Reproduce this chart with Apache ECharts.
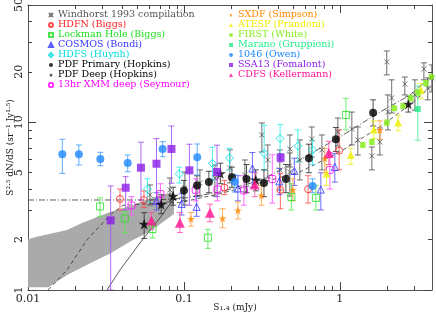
<!DOCTYPE html>
<html><head><meta charset="utf-8">
<script src="https://cdn.jsdelivr.net/npm/echarts@6/dist/echarts.min.js"></script>
<style>html,body{margin:0;padding:0;background:#fff}#c{width:436px;height:312px}</style>
</head><body><div id="c"></div>
<script>
const L = Math.log10;
// rows: [S1.4 (mJy), S^2.5 dN/dS, lower, upper]
const windhorst = [[0.0606,3.69,3.21,4.23],[0.0813,3.95,3.35,4.65],[0.1015,4.06,3.21,5.05],[0.1267,4.35,3.63,5.2],[0.158,4.65,3.63,5.56],[0.197,5.34,4.35,6.84],[0.246,4.85,3.84,5.96],[0.316,8.40,6.65,9.90],[0.345,5.96,4.65,7.32],[0.412,5.2,3.95,6.84],[0.478,6.93,5.41,8.40],[0.478,5.05,3.63,6.56],[0.554,5.96,4.53,7.84],[0.661,7.95,6.21,9.37],[0.767,6.84,5.2,8.40],[0.971,8.75,7.22,10.6],[1.194,9.12,7.32,11.5],[1.304,7.84,6.38,9.37],[1.604,6.30,5.2,7.12],[1.805,7.63,6.38,9.25],[2.03,11.5,9.0,14.55],[2.15,13.96,11.36,17.9],[2.0,22.9,19.15,26.6],[2.61,16.9,14.55,18.6],[3.03,14.55,11.8,17.9],[3.46,20.8,17.9,22.6],[3.66,16.0,13.6,18.4],[3.89,18.4,15.16,21.97]];
const hdfn = [[0.0389,3.49,3.0,4.0],[0.0554,3.44,3.1,3.9],[0.1818,4.08,3.7,4.5],[0.4155,3.95,3.05,4.95],[0.626,3.99,3.3,4.8],[0.990,6.77,5.2,9.0]];
const lockman = [[0.029,3.15,2.75,3.54],[0.0418,2.67,2.19,2.93],[0.063,2.31,2.04,2.55],[0.1425,2.05,1.77,2.3],[0.489,3.58,3.0,4.3],[0.702,3.54,3.0,4.2],[1.093,11.05,9.0,13.9]];
const cosmos = [[0.0668,3.39,3.0,3.8],[0.0967,3.26,2.8,3.75],[0.1206,3.13,2.75,3.6],[0.222,4.03,3.4,4.8],[0.275,5.30,4.1,6.6],[0.4095,4.44,3.7,5.3],[0.511,5.12,4.2,6.1],[0.755,3.97,3.0,5.0],[0.929,5.41,4.4,6.5]];
const hdfs = [[0.0583,4.0,3.35,4.6],[0.0935,4.92,4.35,5.4],[0.1524,5.69,4.5,7.1],[0.196,6.12,5.2,7.0],[0.327,6.53,5.2,9.6],[0.414,8.0,6.5,9.7],[0.538,7.22,5.8,9.0],[0.668,6.84,5.6,7.8]];
const pdfPrimary = [[0.100,3.92,3.4,4.5],[0.1212,4.20,3.65,4.8],[0.1446,4.41,3.8,5.1],[0.2031,4.70,4.1,5.4],[0.252,4.59,3.8,5.6],[0.326,4.35,3.6,5.2],[0.451,4.59,3.8,5.6],[0.633,6.10,5.0,7.4],[0.943,7.92,6.7,9.3],[1.635,11.4,9.5,13.6]];
const pdfDeep = [[0.0556,2.47,2.03,2.89],[0.0715,3.24,2.85,3.7],[0.0853,3.63,3.2,4.1],[0.1714,4.95,4.3,5.7],[0.289,4.53,3.9,5.2],[2.75,12.85,11.5,14.3]];
const seymour = [[0.0461,3.19,2.8,3.6],[0.0707,3.74,3.2,4.3],[0.1189,3.95,3.4,4.6],[0.164,3.97,3.4,4.6],[0.2425,3.92,3.2,4.8],[0.369,4.59,3.3,6.4],[0.863,5.2,4.0,6.6]];
const sxdf = [[0.1109,2.65,2.4,2.9],[0.177,2.67,2.35,3.05],[0.222,2.98,2.65,3.35],[0.314,3.66,3.2,4.2],[0.4995,3.95,3.4,4.6],[0.801,6.08,5.0,7.0],[1.805,9.0,7.9,10.2]];
const atesp = [[0.822,4.95,4.2,5.6],[1.176,6.38,5.6,7.0],[1.652,9.06,8.0,10.2],[2.365,9.97,8.9,11.0],[3.31,15.6,13.8,17.0]];
const first = [[1.404,7.32,7.1,7.55],[1.604,7.63,7.4,7.9],[2.0,9.95,9.6,10.3],[2.235,12.1,11.7,12.5],[2.545,12.5,12.1,12.9],[2.85,13.9,13.4,14.4],[3.16,15.06,14.5,15.6],[3.56,17.08,16.5,17.7],[3.88,18.7,18.1,19.3]];
const marano = [[3.16,12.0,7.8,16.5]];
const owen = [[0.0166,6.45,4.96,7.92],[0.0212,6.45,5.56,7.32],[0.0291,6.04,5.51,6.62],[0.0436,5.72,5.07,6.38],[0.0730,6.93,6.23,7.66],[0.1217,6.18,4.85,7.42],[0.212,4.42,3.84,4.85],[0.668,4.17,3.8,4.6]];
const ssa13 = [[0.0339,2.60,1.0,4.17],[0.0423,4.07,3.0,4.74],[0.053,5.36,3.44,7.6],[0.0667,5.66,3.3,7.99],[0.0832,6.93,4.33,9.5],[0.1084,5.17,3.2,7.4],[0.163,5.05,3.6,7.3],[0.417,6.15,5.8,6.5]];
const cdfs = [[0.0619,2.60,2.3,2.9],[0.0942,2.52,2.2,2.9],[0.1468,2.89,2.55,3.25],[0.285,4.26,3.6,5.0],[0.85,6.56,5.6,7.7]];
// model curves and band
const lineFit = [[0.01,3.44],[0.0606,3.44],[0.0942,3.49],[0.170,3.84],[0.307,4.5],[0.554,5.96],[1,8.17],[1.805,11.5],[2.81,14.5],[3.9,18.9]];
const lineModel = [[0.01343,1.0],[0.01778,1.316],[0.02389,1.99],[0.0336,2.80],[0.0407,3.2],[0.0702,3.30],[0.0942,3.32],[0.170,3.75],[0.307,4.35],[0.554,5.05],[1,6.65],[1.805,9.37],[2.81,12.7],[3.9,16.5]];
const lineSolid = [[0.0321,1.0],[0.0389,1.316],[0.0522,1.906],[0.0702,2.69],[0.085,3.44],[0.1,3.6]];
const bandUpper = [[0.01,2.01],[0.0114,2.08],[0.0178,2.28],[0.0222,2.51],[0.0336,2.92],[0.0451,3.17],[0.0671,3.63],[0.0863,3.84]];
const bandLower = [[0.0863,2.84],[0.0606,2.23],[0.0473,1.99],[0.0336,1.65],[0.0238,1.41],[0.0178,1.23],[0.0135,1.04],[0.01,1.04]];
// axes
const xMin = 0.01, xMax = 3.9, yMin = 1, yMax = 50;
const xMajor = [0.01,0.1,1];
const xMinor = [0.02,0.03,0.04,0.05,0.06,0.07,0.08,0.09,0.2,0.3,0.4,0.5,0.6,0.7,0.8,0.9,2,3];
const xTickLabels = ['0.01','0.1','1'];
const yMajor = [1,10];
const yMinor = [2,3,4,5,6,7,8,9,20,30,40,50];
const yLabelVals = [1,2,5,10,20,50];
const yTickLabels = ['1','2','5','10','20','50'];

const FONT = 'DejaVu Serif';
const star = 'path://M5,0L6.2,3.8L10,3.8L6.9,6.1L8.1,10L5,7.6L1.9,10L3.1,6.1L0,3.8L3.8,3.8Z';
const cross = 'path://M0,0L10,10M10,0L0,10';

const sets = [
 {name:'Windhorst 1993 compilation', rows:windhorst, color:'#555555', sym:cross, size:5, filled:false, bar:'#555555'},
 {name:'HDFN (Biggs)', rows:hdfn, color:'#ff2020', sym:'circle', size:7, filled:false, bar:'#ff5050'},
 {name:'Lockman Hole (Biggs)', rows:lockman, color:'#22dd22', sym:'rect', size:7, filled:false, bar:'#55ee55'},
 {name:'COSMOS (Bondi)', rows:cosmos, color:'#3333ff', sym:'triangle', size:7, filled:false, bar:'#5555ff'},
 {name:'HDFS (Huynh)', rows:hdfs, color:'#00dddd', sym:'diamond', size:8, filled:false, bar:'#33eeee'},
 {name:'PDF Primary (Hopkins)', rows:pdfPrimary, color:'#000000', sym:'circle', size:8, filled:true, bar:'#333333'},
 {name:'PDF Deep (Hopkins)', rows:pdfDeep, color:'#000000', sym:star, size:11, filled:true, bar:'#333333'},
 {name:'13hr XMM deep (Seymour)', rows:seymour, color:'#ff00ff', sym:'roundRect', size:7, filled:false, bar:'#ff55ff'},
 {name:'SXDF (Simpson)', rows:sxdf, color:'#ff8800', sym:star, size:8, filled:true, bar:'#ffa040'},
 {name:'ATESP (Prandoni)', rows:atesp, color:'#eeee00', sym:'triangle', size:8, filled:true, bar:'#eeee22'},
 {name:'FIRST (White)', rows:first, color:'#88ee22', sym:'circle', size:6, filled:true, bar:'#88ee22'},
 {name:'Marano (Gruppioni)', rows:marano, color:'#22ee88', sym:'rect', size:6, filled:true, bar:'#55ee99'},
 {name:'1046 (Owen)', rows:owen, color:'#1e88ff', sym:'circle', size:8, filled:true, bar:'#44a0ff'},
 {name:'SSA13 (Fomalont)', rows:ssa13, color:'#8a1ee8', sym:'rect', size:8, filled:true, bar:'#a050f0'},
 {name:'CDFS (Kellermann)', rows:cdfs, color:'#ff1493', sym:'triangle', size:10, filled:true, bar:'#ff50a8'}
];

const series = [];
series.push({
 type:'custom', silent:true, z:1, clip:true,
 data:[[L(0.03),L(2)]], encode:{x:0,y:1},
 renderItem:(p,api)=>{
   const pts = bandUpper.concat(bandLower).map(q=>api.coord([L(q[0]),L(q[1])]));
   return {type:'polygon', shape:{points:pts}, style:{fill:'#aaaaaa'}};
 }
});
function lineSeries(d, type, color){
 return {type:'line', data:d.map(q=>[L(q[0]),L(q[1])]), showSymbol:false, symbol:'none', silent:true, z:2,
   lineStyle:{color:color, width:0.8, type:type}, clip:true};
}
series.push(lineSeries(lineFit,[6,2,1,2],'#333'));
series.push(lineSeries(lineModel,[4,3],'#333'));
series.push(lineSeries(lineSolid,'solid','#333'));

sets.forEach((s,i)=>{
 const bc = s.bar;
 series.push({
   type:'custom', silent:true, z:3, clip:true,
   data:s.rows.map(r=>[L(r[0]),L(r[2]),L(r[3])]),
   encode:{x:0,y:[1,2]},
   renderItem:(p,api)=>{
     const a = api.coord([api.value(0),api.value(1)]);
     const b = api.coord([api.value(0),api.value(2)]);
     const w = 3, st = {stroke:bc, lineWidth:1, opacity:0.85};
     return {type:'group', children:[
       {type:'line', shape:{x1:a[0],y1:a[1],x2:b[0],y2:b[1]}, style:st},
       {type:'line', shape:{x1:a[0]-w,y1:a[1],x2:a[0]+w,y2:a[1]}, style:st},
       {type:'line', shape:{x1:b[0]-w,y1:b[1],x2:b[0]+w,y2:b[1]}, style:st}
     ]};
   }
 });
 series.push({
   type:'scatter', name:s.name, z:4+(s.filled?1:0), silent:true,
   data:s.rows.map(r=>[L(r[0]),L(r[1])]),
   symbol:s.sym, symbolSize:s.size,
   itemStyle: s.filled ? {color:s.color} : {color:'rgba(255,255,255,0)', borderColor:s.color, borderWidth:1}
 });
});

function fmt(vals, labels){ return v=>{ const i = vals.findIndex(t=>Math.abs(L(t)-v)<1e-6); return i>=0?labels[i]:''; }; }
const axLine = {show:true, onZero:false, lineStyle:{color:'#555', width:1}};
function xAx(pos, major, showLabel){
 return {type:'value', position:pos, min:L(xMin), max:L(xMax),
   axisLine: major ? axLine : {show:false, onZero:false},
   splitLine:{show:false},
   axisTick:{show:true, inside:true, length: major?8:4, lineStyle:{color:'#444'}, customValues:(major?xMajor:xMinor).map(L)},
   axisLabel: showLabel ? {show:true, customValues:xMajor.map(L), formatter:fmt(xMajor,xTickLabels), fontFamily:FONT, fontSize:11, color:'#222', margin:4} : {show:false},
   name: showLabel ? 'S\u2081.\u2084 (mJy)' : '', nameLocation:'middle', nameGap:13, nameMoveOverlap:false,
   nameTextStyle:{fontFamily:FONT, fontSize:9, color:'#222', padding:[0,0,0,10]}
 };
}
function yAx(pos, major, showLabel){
 return {type:'value', position:pos, min:L(yMin), max:L(yMax),
   axisLine: major ? axLine : {show:false, onZero:false},
   splitLine:{show:false},
   axisTick:{show:true, inside:true, length: major?8:4, lineStyle:{color:'#444'}, customValues:(major?yMajor:yMinor).map(L)},
   axisLabel: showLabel ? {show:true, customValues:yLabelVals.map(L), formatter:fmt(yLabelVals,yTickLabels), rotate:90, fontFamily:FONT, fontSize:11, color:'#222', margin:3} : {show:false},
   name: showLabel ? 'S\u00B2\u00B7\u2075 dN/dS (sr\u207B\u00B9 Jy\u00B9\u00B7\u2075)' : '', nameLocation:'middle', nameGap:13, nameRotate:90, nameMoveOverlap:false,
   nameTextStyle:{fontFamily:FONT, fontSize:9, color:'#222'}
 };
}
function legendFor(list, left){
 return {show:true, orient:'vertical', left:left, top:10, itemGap:0, itemWidth:4, itemHeight:4, padding:0, selectedMode:false,
   textStyle:{fontFamily:FONT, fontSize:9.5, lineHeight:9.7},
   data:list.map(s=>({name:s.name, textStyle:{color:s.color==='#000000'?'#000':s.color}}))};
}
const chart = echarts.init(document.getElementById('c'), null, {renderer:'canvas'});
chart.setOption({
 animation:false,
 backgroundColor:'#fff',
 grid:{left:28, right:4, top:5, bottom:22, containLabel:false, outerBoundsMode:'none'},
 xAxis:[xAx('bottom',true,true), xAx('bottom',false,false), xAx('top',true,false), xAx('top',false,false)],
 yAxis:[yAx('left',true,true), yAx('left',false,false), yAx('right',true,false), yAx('right',false,false)],
 legend:[legendFor(sets.slice(0,8),48), legendFor(sets.slice(8),229)],
 series:series
});
</script></body></html>
